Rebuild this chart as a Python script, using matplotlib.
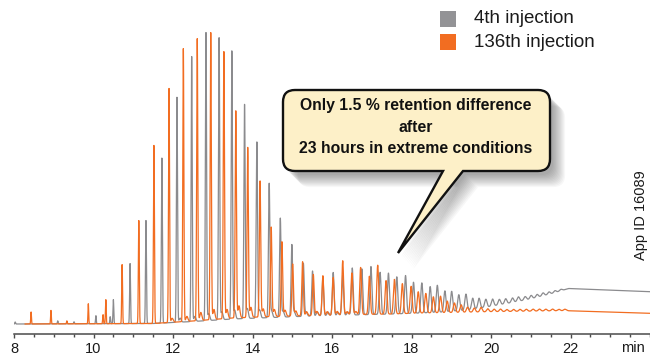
import numpy as np
import matplotlib
matplotlib.use("Agg")
import matplotlib.pyplot as plt
from matplotlib.path import Path
from matplotlib.patches import PathPatch, Rectangle
from matplotlib.ticker import MultipleLocator

plt.rcParams['font.family'] = ['Liberation Sans', 'DejaVu Sans']

# ---- data (time in min, signal in arbitrary units) ----
gray_base_t = [8.0, 11.5, 12.5, 13.5, 14.5, 15.5, 16.5, 17.5, 18.2, 18.8, 19.4, 19.9, 20.4, 21.0, 21.5, 21.95, 24.0]
gray_base_v = [0, 0.5, 2.5, 5, 6.5, 8, 9, 10, 11, 12, 14, 17, 20.5, 25, 30, 35.5, 32.3]

gray_peak_t = [8.03, 9.10, 9.51, 10.06, 10.42, 10.50, 10.92, 11.32, 11.72, 12.10, 12.47, 12.83,
               13.16, 13.48, 13.80, 14.11, 14.42, 14.70, 14.99, 15.28, 15.51, 15.77, 16.03, 16.27,
               16.51, 16.75, 16.98, 17.21, 17.42, 17.63, 17.85, 18.05, 18.26, 18.47, 18.65, 18.84,
               19.01, 19.19, 19.37, 19.54, 19.70, 19.87, 20.04, 20.21, 20.37, 20.54, 20.69, 20.86,
               21.01, 21.16, 21.31, 21.46, 21.61, 21.76]
gray_peak_h = [2, 3, 2, 8, 7, 24, 60, 103, 165, 225, 265, 288,
               282, 268, 214, 176, 134, 99, 72, 53, 45, 38, 43, 40,
               47, 46, 48, 42, 41, 37, 38, 31, 30, 26, 27, 21,
               20, 16, 16, 11, 10, 8, 7, 5.5, 5, 4.5, 4.5, 3.5,
               3.5, 3, 3, 2.5, 2, 1.5]
gray_minor_t = [12.18, 12.55, 12.90, 13.23, 13.55, 13.87, 14.18, 14.48, 14.77, 15.05, 15.35, 15.63, 15.90, 16.15, 16.40]
gray_minor_h = [4, 5, 7, 8, 9, 10, 8, 7, 6, 5, 4, 4, 3.5, 3, 3]

orange_base_t = [8.28, 11.5, 12.5, 13.5, 14.5, 15.5, 16.5, 17.5, 18.2, 19.0, 20.0, 21.0, 21.9, 24.0]
orange_base_v = [0, 0.5, 3, 6, 7.5, 8.5, 9.5, 10, 11, 11.5, 12.3, 12.8, 13.3, 10.7]

orange_peak_t = [8.43, 8.93, 9.33, 9.87, 10.24, 10.31, 10.72, 11.14, 11.52, 11.90, 12.26, 12.61,
                 12.95, 13.28, 13.58, 13.88, 14.19, 14.47, 14.74, 15.01, 15.26, 15.53, 15.77, 16.03,
                 16.27, 16.50, 16.72, 16.94, 17.15, 17.36, 17.57, 17.77, 17.99, 18.17, 18.36, 18.55,
                 18.73, 18.90, 19.08, 19.25, 19.41, 19.58, 19.75, 19.92, 20.08, 20.24, 20.40, 20.57,
                 20.73, 20.89, 21.06, 21.22, 21.38, 21.55, 21.71, 21.86]
orange_peak_h = [12, 13.5, 3, 20, 9, 24, 59, 103, 178, 234, 273, 282,
                 287, 267, 207, 170, 136, 89.5, 74.5, 52, 54, 41, 39.5, 37.5,
                 54, 41.5, 47, 38, 49, 33.5, 34.5, 30, 27, 21.3, 19.5, 16,
                 16.5, 11.5, 9.5, 7.5, 5, 4, 4.5, 3, 2.5, 2.5, 2, 2,
                 2, 2, 2, 2, 1.8, 1.8, 1.5, 1.5]
orange_minor_t = [11.98, 12.35, 12.70, 13.03, 13.36, 13.66, 13.96, 14.27, 14.55, 14.82, 15.09, 15.36, 15.62, 15.88, 16.13, 16.38, 16.60]
orange_minor_h = [4, 5, 8, 10, 9, 12, 10, 8, 7, 6, 5, 4, 4, 3.5, 3.5, 3, 3]

x_ticks = [8, 10, 12, 14, 16, 18, 20, 22]
legend_labels = ["4th injection", "136th injection"]

GRAY = '#8b8b8e'
ORANGE = '#f26d21'


def trace(base_t, base_v, pk_t, pk_h, mn_t, mn_h):
    t = np.arange(base_t[0], base_t[-1], 0.002)
    y = np.interp(t, base_t, base_v)
    for tc, h in zip(pk_t, pk_h):
        sig = max(0.009, 0.009 + 0.002 * (tc - 10))
        y += h * np.exp(-0.5 * ((t - tc) / sig) ** 2)
    for tc, h in zip(mn_t, mn_h):
        y += h * np.exp(-0.5 * ((t - tc) / 0.025) ** 2)
    return t, y


fig = plt.figure(figsize=(6.5, 3.56), dpi=100)
ax = fig.add_axes([14 / 650, 22 / 356, 636 / 650, 334 / 356])

t_g, y_g = trace(gray_base_t, gray_base_v, gray_peak_t, gray_peak_h, gray_minor_t, gray_minor_h)
t_o, y_o = trace(orange_base_t, orange_base_v, orange_peak_t, orange_peak_h, orange_minor_t, orange_minor_h)
ax.plot(t_g, y_g, color=GRAY, lw=0.9)
ax.plot(t_o, y_o, color=ORANGE, lw=0.9)

ax.set_xlim(8, 24.0)
ax.set_ylim(-10, 324)
for s in ['top', 'right', 'left']:
    ax.spines[s].set_visible(False)
ax.spines['bottom'].set_color('#4a4a4a')
ax.spines['bottom'].set_linewidth(1.1)
ax.set_yticks([])
ax.set_xticks(x_ticks)
ax.set_xticklabels([str(v) for v in x_ticks])
ax.xaxis.set_minor_locator(MultipleLocator(0.5))
ax.tick_params(axis='x', which='major', direction='out', length=3.2, width=1.0,
               color='#4a4a4a', labelsize=10.5, pad=2.5, labelcolor='#1a1a1a')
ax.tick_params(axis='x', which='minor', direction='out', length=1.8, width=1.0, color='#4a4a4a')

# overlay in pixel coordinates for annotations
ov = fig.add_axes([0, 0, 1, 1])
ov.set_xlim(0, 650)
ov.set_ylim(356, 0)
ov.axis('off')
ov.patch.set_alpha(0)

ov.text(633, 340.5, "min", ha='center', va='top', fontsize=10.5, color='#1a1a1a')

# legend
ov.add_patch(Rectangle((440, 11), 15.7, 15.7, facecolor='#939396', edgecolor='none'))
ov.add_patch(Rectangle((440, 34.3), 15.7, 15.7, facecolor=ORANGE, edgecolor='none'))
ov.text(474, 18.8, legend_labels[0], va='center', ha='left', fontsize=13.5, color='#1a1a1a')
ov.text(474, 42.2, legend_labels[1], va='center', ha='left', fontsize=13.5, color='#1a1a1a')

ov.text(641, 215, "App ID 16089", rotation=90, ha='center', va='center', fontsize=10.5, color='#1a1a1a')

# callout
x0, x1, y0, y1, r = 283, 550, 90, 171, 12
tb0, tb1, tip = 443, 463, (398, 253)
verts = [(x0 + r, y0), (x1 - r, y0), (x1, y0), (x1, y0 + r), (x1, y1 - r), (x1, y1), (x1 - r, y1),
         (tb1, y1), tip, (tb0, y1), (x0 + r, y1), (x0, y1), (x0, y1 - r), (x0, y0 + r), (x0, y0),
         (x0 + r, y0), (x0 + r, y0)]
codes = [Path.MOVETO, Path.LINETO, Path.CURVE3, Path.CURVE3, Path.LINETO, Path.CURVE3, Path.CURVE3,
         Path.LINETO, Path.LINETO, Path.LINETO, Path.LINETO, Path.CURVE3, Path.CURVE3, Path.LINETO,
         Path.CURVE3, Path.CURVE3, Path.CLOSEPOLY]
for i in range(12):
    off = np.array([3 + i * 1.1, 4 + i * 1.1])
    sp = Path(np.array(verts, float) + off, codes)
    ov.add_patch(PathPatch(sp, facecolor='#000000', edgecolor='none', alpha=0.03))
ov.add_patch(PathPatch(Path(verts, codes), facecolor='#fdf0c8', edgecolor='#111111', lw=1.7,
                       joinstyle='miter'))
ov.text(416, 127, "Only 1.5 % retention difference\nafter\n23 hours in extreme conditions",
        ha='center', va='center', fontsize=11.3, fontweight='bold', linespacing=1.55,
        fontstretch='condensed', color='#111111')

fig.savefig("out.png", dpi=100)
